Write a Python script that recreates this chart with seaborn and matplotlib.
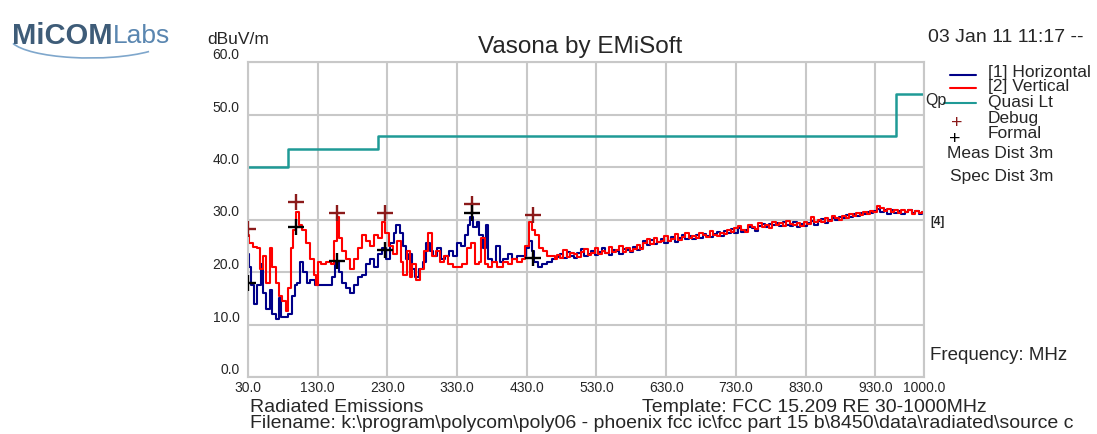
import matplotlib
matplotlib.use("Agg")
import matplotlib.pyplot as plt
import seaborn as sns
import numpy as np
from matplotlib.lines import Line2D
from matplotlib.patches import Arc

# ---------------- data ----------------
red_lo_f = [30, 34, 40, 46, 49, 54, 59, 63, 67, 72, 77, 82, 86, 90, 93, 97, 100, 105, 110, 116,
            122, 126, 129, 132, 138, 145, 152, 156, 159, 163, 168, 174, 179, 185, 191, 196, 202, 208,
            214, 219, 225, 229, 235, 241, 247, 251, 255, 260, 264, 268, 274, 280, 285, 291, 297, 303,
            308, 314, 320, 327, 334, 341, 347, 353, 359, 363, 367, 372, 377, 384, 392, 399, 406, 413,
            420, 426, 430, 435, 439, 445, 450, 456, 462, 468, 473]
red_lo_v = [27.0, 25.5, 24.8, 24.5, 20.5, 23.0, 18.0, 24.5, 21.0, 18.0, 15.5, 14.5, 12.5, 17.0, 24.5,
            28.0, 31.5, 29.0, 28.0, 25.5, 22.5, 19.5, 17.5, 22.0, 21.5, 22.0, 21.5, 26.0, 30.5, 26.5,
            24.0, 22.5, 20.5, 22.5, 24.5, 27.0, 26.0, 25.0, 27.0, 26.5, 29.5, 27.5, 25.0, 23.5, 26.0,
            22.0, 19.5, 24.0, 19.0, 21.5, 18.5, 20.5, 24.0, 27.5, 23.0, 24.0, 22.0, 23.0, 21.5, 21.0,
            21.0, 21.5, 24.5, 25.5, 21.5, 22.0, 26.5, 21.5, 21.0, 22.0, 21.0, 22.0, 21.5, 22.5, 22.0,
            22.5, 25.0, 29.5, 28.0, 27.0, 24.5, 24.0, 23.0, 23.0, 22.5]

blue_lo_f = [30, 33, 37, 41, 46, 50, 54, 59, 63, 67, 72, 76, 80, 86, 90, 95, 99, 103, 107, 112,
             116, 122, 130, 139, 148, 153, 158, 162, 168, 174, 179, 185, 191, 196, 202, 208, 214,
             219, 225, 231, 237, 241, 245, 250, 254, 258, 263, 267, 273, 278, 284, 288, 293, 298,
             304, 310, 316, 321, 327, 333, 339, 343, 347, 351, 356, 360, 364, 369, 373, 377, 383,
             389, 393, 400, 406, 413, 420, 426, 432, 435, 439, 443, 449, 456, 463, 470]
blue_lo_v = [23.5, 21.0, 17.5, 14.0, 17.5, 21.5, 16.0, 13.0, 16.5, 12.0, 11.0, 15.0, 11.5, 11.5,
             12.0, 15.5, 17.5, 18.0, 22.0, 20.0, 18.0, 18.5, 17.5, 17.5, 17.5, 19.0, 22.0, 20.0,
             18.0, 17.0, 16.0, 17.5, 19.0, 19.5, 21.5, 22.5, 21.0, 23.5, 24.5, 22.5, 25.5, 27.5,
             29.0, 27.5, 25.0, 22.5, 23.5, 20.5, 19.0, 20.5, 22.0, 25.5, 24.0, 23.0, 24.5, 22.5,
             23.0, 24.0, 23.0, 25.5, 25.0, 27.0, 29.0, 30.5, 28.5, 29.5, 27.0, 24.5, 29.0, 22.5,
             22.0, 25.0, 22.0, 22.5, 23.5, 22.5, 23.0, 23.0, 24.5, 26.0, 24.0, 22.0, 21.0, 21.5,
             22.0, 22.5]

hi_f = list(range(475, 1001, 5))
blue_hi_v = [22.8, 23.4, 22.6, 23.9, 23.1, 22.7, 23.6, 24.3, 23.0, 23.5,
             24.0, 23.2, 23.8, 24.6, 23.7, 23.3, 24.1, 24.0, 23.4, 24.4,
             24.2, 23.9, 24.8, 24.1, 24.5, 25.9, 25.2, 26.1, 25.4, 25.8,
             26.3, 25.6, 25.9, 26.6, 25.8, 26.4, 27.1, 26.3, 26.9, 26.2,
             27.0, 26.5, 27.3, 26.8, 26.6, 27.2, 27.6, 26.9, 27.8, 27.4,
             28.1, 27.5, 28.4, 27.7, 28.0, 28.6, 28.3, 27.9, 28.8, 29.1,
             28.5, 29.2, 28.9, 29.4, 28.7, 29.6, 29.0, 28.8, 29.5, 28.6,
             29.1, 28.7, 29.3, 29.7, 29.0, 29.8, 30.1, 29.4, 30.0, 30.3,
             29.9, 30.5, 30.2, 30.9, 30.4, 31.0, 30.6, 31.3, 31.0, 31.5,
             31.2, 31.6, 32.0, 31.4, 31.8, 31.1, 31.9, 31.3, 31.6, 31.0,
             31.5, 31.9, 31.2, 31.7, 31.0, 31.4]
red_hi_v = [23.2, 22.6, 24.1, 22.9, 23.7, 23.4, 22.8, 23.8, 24.4, 23.2,
            23.7, 24.5, 23.5, 24.0, 23.6, 24.8, 23.9, 24.2, 25.0, 23.8,
            24.6, 24.0, 24.3, 25.1, 24.4, 25.5, 26.2, 25.3, 26.5, 25.7,
            26.0, 26.8, 25.9, 26.3, 27.2, 26.1, 26.7, 27.4, 26.5, 26.9,
            26.4, 27.5, 27.0, 26.7, 27.9, 27.1, 26.8, 27.5, 27.2, 28.0,
            27.6, 28.3, 28.7, 28.0, 27.6, 28.9, 28.5, 28.2, 29.3, 28.6,
            29.0, 28.4, 29.5, 28.9, 29.3, 28.8, 29.7, 29.2, 28.9, 29.4,
            28.8, 29.5, 29.2, 30.4, 29.6, 29.9, 29.5, 30.2, 29.8, 30.6,
            30.2, 30.0, 30.7, 30.3, 31.1, 30.6, 31.2, 30.8, 31.5, 31.1,
            31.7, 31.4, 32.6, 32.1, 31.7, 32.0, 31.5, 31.8, 31.3, 31.9,
            31.4, 31.8, 31.1, 31.6, 31.2, 31.5]

limit_f = [30, 88, 216, 960, 1000]
limit_v = [40.0, 43.5, 46.0, 54.0, 54.0]

debug_f = [30, 99, 158, 227, 351, 439]
debug_v = [28.2, 33.3, 31.2, 31.2, 33.0, 30.9]
formal_f = [30, 99, 158, 227, 351, 439]
formal_v = [17.9, 28.6, 22.1, 24.2, 31.2, 22.7]

x_ticks = [30, 130, 230, 330, 430, 530, 630, 730, 830, 930, 1000]
y_ticks = [0, 10, 20, 30, 40, 50, 60]

# ---------------- style ----------------
sns.set_theme(style="whitegrid")
plt.rcParams['font.family'] = ['Liberation Sans', 'DejaVu Sans']

W, H = 1097, 434
fig = plt.figure(figsize=(W / 100, H / 100), dpi=100)
fig.patch.set_facecolor("white")
ax = fig.add_axes([248 / W, 1 - 377 / H, (924 - 248) / W, (377 - 62) / H])
ax.set_facecolor("white")

BLUE = "#000088"
RED = "#ff0000"
TEAL = "#1f9a96"
DRED = "#8b1a1a"

red_f = red_lo_f + hi_f
red_v = red_lo_v + red_hi_v
blue_f = blue_lo_f + hi_f
blue_v = blue_lo_v + blue_hi_v

sns.lineplot(x=blue_f, y=blue_v, ax=ax, color=BLUE, linewidth=1.5, drawstyle="steps-mid",
             estimator=None, sort=False)
sns.lineplot(x=red_f, y=red_v, ax=ax, color=RED, linewidth=1.5, drawstyle="steps-mid",
             estimator=None, sort=False)
sns.lineplot(x=limit_f, y=limit_v, ax=ax, color=TEAL, linewidth=1.8, drawstyle="steps-post",
             estimator=None, sort=False)
sns.scatterplot(x=debug_f, y=debug_v, ax=ax, marker="+", s=140, color=DRED, linewidth=1.7, zorder=5)
sns.scatterplot(x=formal_f, y=formal_v, ax=ax, marker="+", s=140, color="black", linewidth=1.7, zorder=5)

ax.set_xlim(30, 1000)
ax.set_ylim(0, 60)
ax.set_xticks(x_ticks)
ax.set_yticks(y_ticks)
ax.set_xticklabels([f"{v:.1f}" for v in x_ticks], fontsize=10,
                   family=['Liberation Sans Narrow', 'Liberation Sans', 'DejaVu Sans'])
ax.set_yticklabels([f"{v:.1f}" for v in y_ticks], fontsize=10,
                   family=['Liberation Sans Narrow', 'Liberation Sans', 'DejaVu Sans'])
ax.tick_params(axis="both", length=0, pad=3)
ax.tick_params(axis="y", pad=6)
for lbl in ax.get_yticklabels():
    lbl.set_verticalalignment("bottom")
ax.grid(True, color="#c8c8c8", linewidth=1.5)
for s in ax.spines.values():
    s.set_color("#c8c8c8")
    s.set_linewidth(1.5)
ax.set_xlabel("")
ax.set_ylabel("")

# ---------------- texts ----------------
def ft(x, y, s, **kw):
    fig.text(x / W, 1 - y / H, s, **kw)

ft(580, 47, "Vasona by EMiSoft", fontsize=17.5, ha="center", va="center")
ft(207, 40, "dBuV/m", fontsize=12.5, ha="left", va="center")
ft(928, 37, "03 Jan 11 11:17 --", fontsize=14, ha="left", va="center")

# legend
LFS = 12.5
leg = [(75, BLUE, "[1] Horizontal", 72), (88, RED, "[2] Vertical", 87), (103, TEAL, "Quasi Lt", 102)]
for y, c, t, ty in leg:
    fig.add_artist(Line2D([950 / W, 976 / W], [1 - y / H, 1 - y / H], color=c, linewidth=1.5))
    ft(988, ty, t, fontsize=LFS, ha="left", va="center")
ft(925, 101, "Qp", fontsize=11.5, ha="left", va="center")
fig.add_artist(Line2D([944 / W, 950 / W], [1 - 103 / H, 1 - 103 / H], color=TEAL, linewidth=1.5))
ft(957, 124, "+", fontsize=14, color=DRED, ha="center", va="center")
ft(988, 118, "Debug", fontsize=LFS, ha="left", va="center")
ft(955, 140, "+", fontsize=14, color="black", ha="center", va="center")
ft(988, 134, "Formal", fontsize=LFS, ha="left", va="center")
ft(947, 154, "Meas Dist 3m", fontsize=LFS, ha="left", va="center")
ft(950, 176, "Spec Dist 3m", fontsize=LFS, ha="left", va="center")
ft(930, 222, "[4]", fontsize=8.5, fontweight="bold", ha="left", va="center")
ft(930, 356, "Frequency: MHz", fontsize=13.5, ha="left", va="center")

BFS = 14
ft(250, 408, "Radiated Emissions", fontsize=BFS, ha="left", va="center")
ft(642, 408, "Template: FCC 15.209 RE 30-1000MHz", fontsize=BFS, ha="left", va="center")
ft(250, 423, "Filename: k:\\program\\polycom\\poly06 - phoenix fcc ic\\fcc part 15 b\\8450\\data\\radiated\\source c",
   fontsize=BFS, ha="left", va="center")

# logo
ft(12, 36, "MiCOM", fontsize=21, fontweight="bold", color="#3e5c78", ha="left", va="center")
ft(113, 36, "Labs", fontsize=19, color="#5a86b0", ha="left", va="center")
arc = Arc((90 / W, 1 - 38 / H), 160 / W, 40 / H, theta1=190, theta2=330,
          transform=fig.transFigure, color="#7fa7cc", linewidth=1.2)
fig.add_artist(arc)

fig.savefig("out.png", dpi=100)
